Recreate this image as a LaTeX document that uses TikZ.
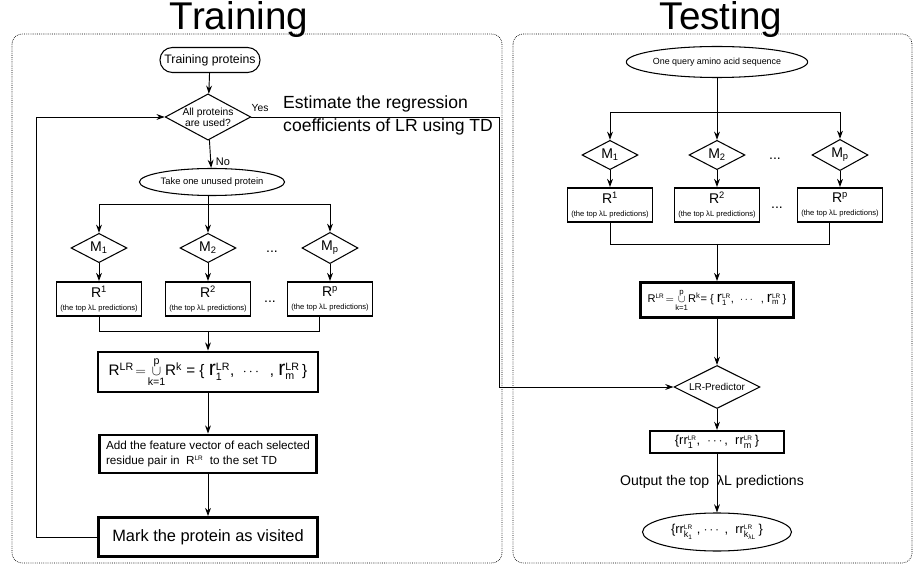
\documentclass[tikz,border=0pt]{standalone}
\usepackage{fontspec}
\setmainfont{Liberation Sans}
\usepackage{amsmath}
\usetikzlibrary{shapes.geometric,arrows.meta,positioning}

\newcommand{\fsz}[2]{\fontsize{#1}{#2}\selectfont}
\newcommand{\lrsup}{\text{\fsz{5.5}{6}LR}}
\newcommand{\toplist}{{\fsz{6.5}{7.5}(the top λL predictions)}}
\newcommand{\unionk}{\mathop{\cup}\limits_{\text{k=1}}^{\text{p}}}

\tikzset{
  flow/.style={line width=0.8pt},
  arr/.style={flow,-{Stealth[length=7pt,width=5pt]}},
  panel/.style={densely dotted,line width=0.6pt,rounded corners=0.3cm},
  decide/.style={diamond,draw,line width=0.9pt,inner sep=0pt,align=center},
  oval/.style={ellipse,draw,line width=0.9pt,inner sep=0pt},
  mnode/.style={decide,minimum width=1.68cm,minimum height=0.84cm,font=\fsz{12}{14}},
  rbox/.style={rectangle,draw,line width=1.6pt,minimum width=2.55cm,minimum height=1.02cm,inner sep=0pt,align=center,font=\fsz{12}{11}},
  bigbox/.style={rectangle,draw,line width=2.4pt,inner sep=0pt},
  dotsnode/.style={font=\fsz{12}{14}},
}

\begin{document}
\begin{tikzpicture}[x=0.03cm,y=-0.03cm]
\useasboundingbox (0,0) rectangle (915,568);
% panels
\draw[panel] (12,34) rectangle (502,563);
\draw[panel] (513,34) rectangle (912,563);
\node[anchor=base,font=\fsz{33}{36}] (ttrain) at (239,30) {Training};
\node[anchor=base,font=\fsz{33}{36}] (ttest) at (721,30) {Testing};

% training side
\node[draw,line width=0.9pt,rounded corners=0.37cm,minimum width=3cm,minimum height=0.75cm,inner sep=0pt,font=\fsz{10.5}{12}] (tp) at (210,60) {Training proteins};
\node[decide,minimum width=2.55cm,minimum height=1.38cm,shape aspect=1.85,font=\fsz{8.8}{9.5}] (all) at (208,117) {All proteins\\are used?};
\node[font=\fsz{8.8}{10}] (yes) at (260,108) {Yes};
\node[font=\fsz{9.4}{11}] (no) at (223,162) {No};
\node[oval,minimum width=3.9cm,minimum height=0.81cm,font=\fsz{8}{9}] (take) at (212,182) {Take one unused protein};
\coordinate (lbr) at (208,204);
\node[mnode] (lm1) at (99,248) {M$_{\text{1}}$};
\node[mnode] (lm2) at (208,248) {M$_{\text{2}}$};
\node[mnode] (lmp) at (330,248) {M$_{\text{p}}$};
\node[dotsnode] (ldots1) at (272,252) {...};
\node[rbox] (lr1) [below=1.53cm of lm1.center,anchor=center] {R\textsuperscript{1}\\\toplist};
\node[rbox] (lr2) [below=1.53cm of lm2.center,anchor=center] {R\textsuperscript{2}\\\toplist};
\node[rbox] (lrp) [below=1.53cm of lmp.center,anchor=center] {R\textsuperscript{p}\\\toplist};
\node[dotsnode] (ldots2) at (270,302) {...};
\coordinate (lmg) at (208,331);
\coordinate (lpe) at ([xshift=-0.33cm]lrp.south);
\node[bigbox,minimum width=6.6cm,minimum height=1.2cm,font=\fsz{13}{15}] (lunion) at (208,372)
  {R$^{\text{LR}}\!=\!\unionk$R$^{\text{k}}$ = \{ {\fsz{18}{20}r}$_{\text{1}}^{\text{LR}}$, \ $\cdots$ \ , {\fsz{18}{20}r}$_{\text{m}}^{\text{LR}}$\,\}};
\node[bigbox,minimum width=6.51cm,minimum height=1.14cm,inner sep=4pt,align=left,font=\fsz{10}{13}] (ladd) at (208,454)
  {Add the feature vector of each selected\\residue pair in \ R$^{\lrsup}$ \ to the set TD};
\node[bigbox,minimum width=6.57cm,minimum height=1.17cm,font=\fsz{14}{16}] (lmark) at (208,537) {Mark the protein as visited};
\node[anchor=north west,inner sep=0pt,align=left,font=\fsz{15}{19}] (est) at (283,96)
  {Estimate the regression\\coefficients of LR using TD};
\coordinate (lx) at (36,0);
\coordinate (ycorner) at (499,117);

% testing side
\node[oval,minimum width=5.01cm,minimum height=0.93cm,font=\fsz{7.6}{9}] (query) at (717,62) {One query amino acid sequence};
\coordinate (rbr) at (717,112);
\node[mnode] (rm1) at (610,155) {M$_{\text{1}}$};
\node[mnode] (rm2) at (717,155) {M$_{\text{2}}$};
\node[mnode] (rmp) at (840,155) {M$_{\text{p}}$};
\node[dotsnode] (rdots1) at (775,159) {...};
\node[rbox] (rr1) [below=1.5cm of rm1.center,anchor=center] {R\textsuperscript{1}\\\toplist};
\node[rbox] (rr2) [below=1.5cm of rm2.center,anchor=center] {R\textsuperscript{2}\\\toplist};
\node[rbox] (rrp) [below=1.5cm of rmp.center,anchor=center] {R\textsuperscript{p}\\\toplist};
\node[dotsnode] (rdots2) at (777,208) {...};
\coordinate (rmg) at (717,244);
\coordinate (rpe) at ([xshift=-0.33cm]rrp.south);
\node[bigbox,minimum width=4.59cm,minimum height=1.05cm,font=\fsz{9.5}{11}] (runion) at (717,300)
  {R$^{\lrsup}\!=\!\unionk$R$^{\text{k}}$= \{ {\fsz{13}{15}r}$_{\text{1}}^{\lrsup}$, \ $\cdots$ \ , {\fsz{13}{15}r}$_{\text{m}}^{\lrsup}$\,\}};
\node[decide,minimum width=2.58cm,minimum height=1.29cm,shape aspect=2,font=\fsz{8.5}{10}] (lrpred) at (717,387) {LR-Predictor};
\node[bigbox,line width=1.8pt,minimum width=4.02cm,minimum height=0.66cm,font=\fsz{11}{13}] (rrbox) at (717,442)
  {\{rr$^{\lrsup}_{\text{1}}$, \ $\cdots$, \ rr$^{\lrsup}_{\text{m}}$\,\}};
\node[oval,minimum width=4.47cm,minimum height=1.14cm,font=\fsz{11}{13}] (out) at (717,532)
  {\{rr$^{\lrsup}_{\text{k}_{\text{1}}}$ , $\cdots$ , \ rr$^{\lrsup}_{\text{k}_{\text{λL}}}$\,\}};
\node[font=\fsz{12}{14}] (outlab) at (712,482) {Output the top \ λL predictions};

% connectors, training
\draw[arr] (tp) -- (all);
\draw[arr] (all) -- (take);
\draw[flow] (lm1.north |- lbr) -- (lmp.north |- lbr);
\draw[arr] (take.south -| lm2) -- (lm2);
\draw[arr] (lm1.north |- lbr) -- (lm1);
\draw[arr] (lmp.north |- lbr) -- (lmp);
\foreach \k in {1,2,p} \draw[arr] (lm\k) -- (lr\k);
\draw[flow] (lr1.south) |- (lpe |- lmg) -- (lpe);
\draw[arr] (lmg) -- (lunion);
\draw[arr] (lunion) -- (ladd);
\draw[arr] (ladd) -- (lmark);
\draw[arr] (lmark.west) -- (lmark.west -| lx) |- (all.west);
\draw[arr] (all.east) -- (ycorner) |- (lrpred.west);

% connectors, testing
\draw[arr] (query) -- (rm2);
\draw[flow] (rm1.north |- rbr) -- (rmp.north |- rbr);
\draw[arr] (rm1.north |- rbr) -- (rm1);
\draw[arr] (rmp.north |- rbr) -- (rmp);
\foreach \k in {1,2,p} \draw[arr] (rm\k) -- (rr\k);
\draw[flow] (rr1.south) |- (rpe |- rmg) -- (rpe);
\draw[arr] (rmg) -- (runion);
\draw[arr] (runion) -- (lrpred);
\draw[arr] (lrpred) -- (rrbox);
\draw[arr] (rrbox) -- (out);
\end{tikzpicture}
\end{document}
